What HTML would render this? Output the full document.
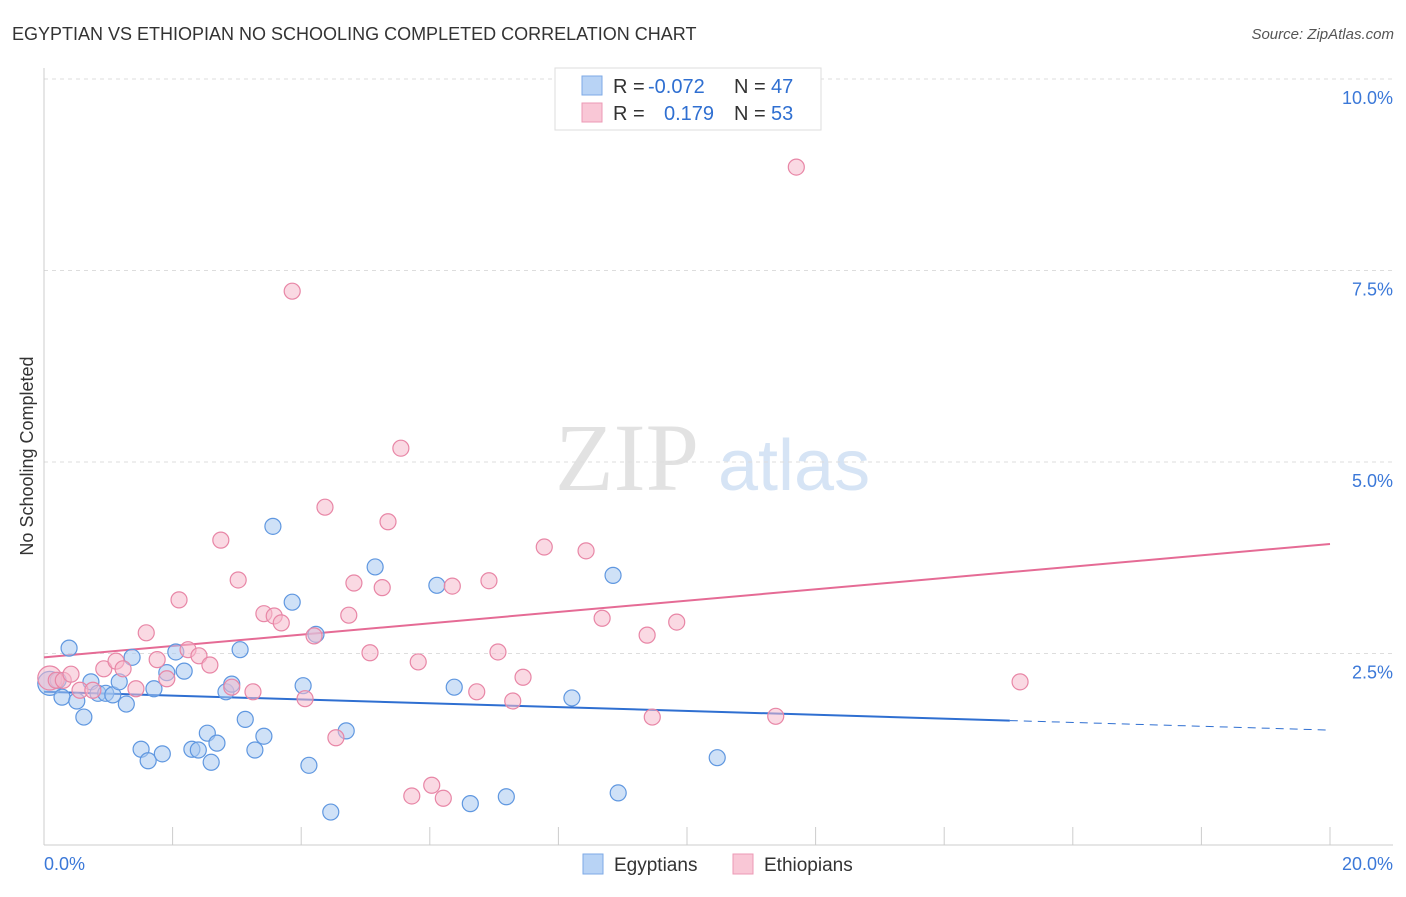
<!DOCTYPE html>
<html><head><meta charset="utf-8"><style>
body{margin:0;background:#fff;font-family:"Liberation Sans",sans-serif;}
svg text{font-family:"Liberation Sans",sans-serif;}
</style></head><body>
<svg id="chart" width="1406" height="892">
<text x="12" y="40" font-size="18" fill="#333">EGYPTIAN VS ETHIOPIAN NO SCHOOLING COMPLETED CORRELATION CHART</text>
<text x="1394" y="39" font-size="15" fill="#555" font-style="italic" text-anchor="end">Source: ZipAtlas.com</text>
<text x="33" y="456" font-size="18" fill="#333" text-anchor="middle" transform="rotate(-90 33 456)">No Schooling Completed</text>
<g><text x="555" y="490" font-size="96" fill="#e2e2e2" font-family="Liberation Serif" style="font-family:'Liberation Serif',serif">ZIP</text><text x="718" y="490" font-size="72" fill="#d6e4f5">atlas</text></g>
<g id="grid"></g><g id="axes"></g><g id="trend"></g><g id="pts"></g>
<g>
<rect x="555" y="68" width="266" height="62" fill="#fff" stroke="#ddd"/>
<rect x="582" y="76" width="20" height="19" fill="#b8d3f5" stroke="#7eaae6"/>
<rect x="582" y="103" width="20" height="19" fill="#f9c7d6" stroke="#ec9ab5"/>
<text x="613" y="93" font-size="20" fill="#333">R =</text><text x="648" y="93" font-size="20" fill="#2f6fd1">-0.072</text>
<text x="734" y="93" font-size="20" fill="#333">N =</text><text x="771" y="93" font-size="20" fill="#2f6fd1">47</text>
<text x="613" y="120" font-size="20" fill="#333">R =</text><text x="664" y="120" font-size="20" fill="#2f6fd1">0.179</text>
<text x="734" y="120" font-size="20" fill="#333">N =</text><text x="771" y="120" font-size="20" fill="#2f6fd1">53</text>
</g>
<g>
<rect x="583" y="854" width="20" height="20" fill="#b8d3f5" stroke="#7eaae6"/><text x="614" y="871" font-size="19" fill="#333">Egyptians</text>
<rect x="733" y="854" width="20" height="20" fill="#f9c7d6" stroke="#ec9ab5"/><text x="764" y="871" font-size="19" fill="#333">Ethiopians</text>
</g>
<text x="44" y="870" font-size="18" fill="#3b78d8">0.0%</text>
<text x="1393" y="870" font-size="18" fill="#3b78d8" text-anchor="end">20.0%</text>
</svg>
<script>
const yTicks=[2.5,5,7.5,10];
const yTickLabels=["2.5%","5.0%","7.5%","10.0%"];
const xTicks=[0,2,4,6,8,10,12,14,16,18,20];
const egyX=[.09,.22,.28,.39,.51,.62,.73,.84,.96,1.07,1.17,1.28,1.37,1.51,1.62,1.71,1.84,1.91,2.05,2.18,2.30,2.40,2.54,2.60,2.69,2.83,2.92,3.05,3.13,3.28,3.42,3.56,3.86,4.03,4.12,4.23,4.46,4.70,5.15,6.11,6.38,6.63,7.19,8.21,8.85,8.93,10.47];
const egyY=[2.11,2.15,1.93,2.57,1.88,1.67,2.13,1.98,1.98,1.96,2.13,1.84,2.45,1.25,1.10,2.04,1.19,2.25,2.52,2.27,1.25,1.24,1.46,1.08,1.33,2.00,2.10,2.55,1.64,1.24,1.42,4.16,3.17,2.08,1.04,2.75,.43,1.49,3.63,3.39,2.06,.54,.63,1.92,3.52,.68,1.14];
const ethX=[.09,.19,.30,.42,.56,.76,.93,1.12,1.23,1.43,1.59,1.76,1.91,2.10,2.24,2.41,2.58,2.75,2.92,3.02,3.25,3.42,3.58,3.69,3.86,4.06,4.20,4.37,4.54,4.74,4.82,5.07,5.26,5.35,5.55,5.72,5.82,6.03,6.21,6.35,6.73,6.92,7.06,7.29,7.45,7.78,8.43,8.68,9.38,9.46,9.84,11.38,11.70,15.18];
const ethY=[2.18,2.15,2.15,2.23,2.02,2.02,2.30,2.40,2.30,2.04,2.77,2.42,2.17,3.20,2.55,2.47,2.35,3.98,2.06,3.46,2.00,3.02,2.99,2.90,7.23,1.91,2.73,4.41,1.40,3.00,3.42,2.51,3.36,4.22,5.18,.64,2.39,.78,.61,3.38,2.00,3.45,2.52,1.88,2.19,3.89,3.84,2.96,2.74,1.67,2.91,1.68,8.85,2.13];
const egyTrend=[2.00,1.50];
const ethTrend=[2.45,3.93];
const egySolidEnd=15.02;
const NS="http://www.w3.org/2000/svg";
const sx=v=>44+v*64.3, sy=v=>845-v*76.6;
function mk(t,a,p){const e=document.createElementNS(NS,t);for(const k in a)e.setAttribute(k,a[k]);p.appendChild(e);return e;}
const grid=document.getElementById('grid'),axes=document.getElementById('axes'),trend=document.getElementById('trend'),pts=document.getElementById('pts');
yTicks.forEach((t,i)=>{
const l=mk('line',{x1:44,x2:1393,y1:sy(t),y2:sy(t),stroke:'#ddd','stroke-dasharray':'4,4'},grid);


const tx=mk('text',{x:1393,y:sy(t)+25,'font-size':18,fill:'#3b78d8','text-anchor':'end'},grid);
tx.textContent=yTickLabels[i];


});
const ya=mk('line',{x1:44,x2:44,y1:68,y2:845,stroke:'#ccc'},axes);


const xa=mk('line',{x1:44,x2:1393,y1:845,y2:845,stroke:'#ccc'},axes);


xTicks.forEach(t=>{
const l=mk('line',{x1:sx(t),x2:sx(t),y1:827,y2:845,stroke:'#ccc'},axes);


});
function dot(x,y,r,fill,stroke,name){
const c=mk('circle',{cx:sx(x),cy:sy(y),r:r,fill:fill,'fill-opacity':0.55,stroke:stroke,'stroke-width':1.2},pts);


}
egyX.forEach((x,i)=>dot(x,egyY[i],i===0?12:8,'#a8c8f0','#5f97e0','egyptian-point'));
ethX.forEach((x,i)=>dot(x,ethY[i],i===0?12:8,'#f6b9cc','#e886a6','ethiopian-point'));
const yAt=(tr,x)=>tr[0]+(tr[1]-tr[0])*x/20;
const b1=mk('line',{x1:sx(0),y1:sy(egyTrend[0]),x2:sx(egySolidEnd),y2:sy(yAt(egyTrend,egySolidEnd)),stroke:'#2f6fd1','stroke-width':2},trend);


const b2=mk('line',{x1:sx(egySolidEnd),y1:sy(yAt(egyTrend,egySolidEnd)),x2:sx(20),y2:sy(egyTrend[1]),stroke:'#2f6fd1','stroke-width':1,'stroke-dasharray':'8,6'},trend);


const p1=mk('line',{x1:sx(0),y1:sy(ethTrend[0]),x2:sx(20),y2:sy(ethTrend[1]),stroke:'#e56b95','stroke-width':2},trend);


</script>
</body></html>
